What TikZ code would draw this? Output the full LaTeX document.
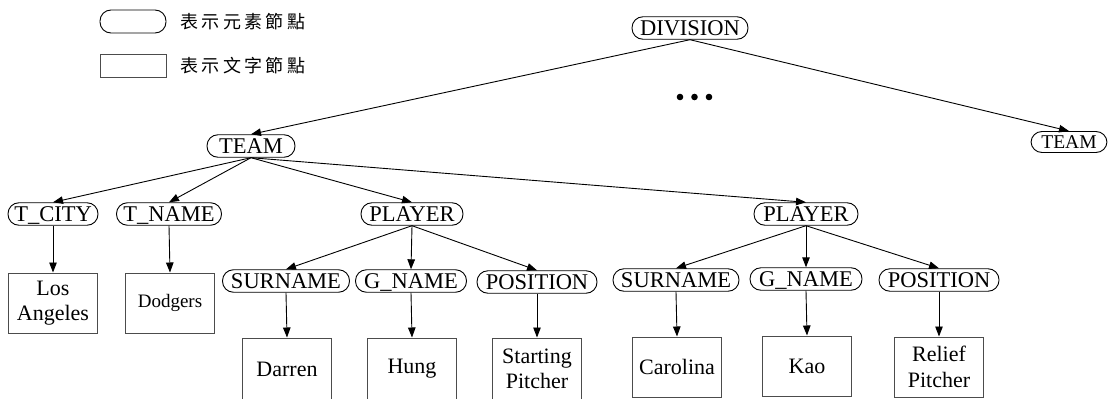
\documentclass[tikz,border=0pt]{standalone}
\usepackage{fontspec}
\setmainfont{Liberation Serif}
\newfontfamily\cjk[LetterSpace=19]{Noto Sans CJK TC}
\usetikzlibrary{arrows.meta}

\begin{document}
\begin{tikzpicture}[x=1pt,y=-1pt,
  elem/.style={draw, line width=0.9pt, rounded corners=11pt, minimum height=22.5pt,
    minimum width=#1, inner xsep=0pt, inner ysep=0pt, text height=15pt, text depth=0pt,
    font=\fontsize{22.5}{25}\selectfont},
  txt/.style={draw=black!70, line width=1pt, minimum width=89pt, minimum height=#1,
    align=center, inner sep=0pt, font=\fontsize{22}{25.5}\selectfont},
  txt/.default=60pt,
  legendtext/.style={anchor=west, inner sep=0pt, font=\cjk\fontsize{18}{20}\selectfont},
  link/.style={line width=0.9pt, -{Triangle[length=10pt,width=7.5pt]}}]
\useasboundingbox (0,0) rectangle (1114,399);

% legend
\node[draw, line width=0.9pt, rounded corners=11pt, minimum width=66pt, minimum height=23pt, inner sep=0pt] (lgelem) at (133,21.5) {};
\node[draw=black!70, line width=1pt, minimum width=66pt, minimum height=23pt, inner sep=0pt] (lgtxt) at (133,65.5) {};
\node[legendtext] (lgelemt) at (180,21.5) {表示元素節點};
\node[legendtext] (lgtxtt) at (180,65.5) {表示文字節點};

% element nodes
\node[elem=116pt] (div) at (690,28) {DIVISION};
\node[elem=88pt] (team) at (251,146) {TEAM};
\node[elem=76pt, minimum height=21pt, text height=13pt, font=\fontsize{19.5}{22}\selectfont] (teamb) at (1069,142) {TEAM};
\node[elem=90pt] (tcity) at (53,214) {T\_CITY};
\node[elem=105pt] (tname) at (169,214) {T\_NAME};
\node[elem=102pt] (pla) at (412,214) {PLAYER};
\node[elem=104pt] (plb) at (806,214) {PLAYER};
\node[elem=127pt] (sna) at (286,281) {SURNAME};
\node[elem=111pt] (gna) at (411,281) {G\_NAME};
\node[elem=120pt] (posa) at (537,282) {POSITION};
\node[elem=126pt] (snb) at (676,280) {SURNAME};
\node[elem=112pt] (gnb) at (806,279) {G\_NAME};
\node[elem=120pt] (posb) at (939,280) {POSITION};

% text nodes
\node[txt] (la) at (53,303) {Los\\Angeles};
\node[txt, font=\fontsize{19}{22}\selectfont] (dod) at (170,303) {Dodgers};
\node[txt=62pt] (darren) at (287,369) {Darren};
\node[txt=62pt] (hung) at (412,369) {Hung};
\node[txt=62pt] (sp) at (537,369) {Starting\\Pitcher};
\node[txt] (carol) at (677,367) {Carolina};
\node[txt] (kao) at (807,366) {Kao};
\node[txt] (rp) at (939,367) {Relief\\Pitcher};

% ellipsis
\fill (680,97) circle (3.3) (694.5,97) circle (3.3) (709,97) circle (3.3);

% connectors
\draw[link] (div.south) -- (team.north);
\draw[link] (div.south) -- (teamb.north);
\draw[link] (team.south) -- (tcity.north);
\draw[link] (team.south) -- (tname.north);
\draw[link] (team.south) -- (pla.north);
\draw[link] (team.south) -- (plb.north);
\draw[link] (tcity.south) -- (la.north);
\draw[link] (tname.south) -- (dod.north);
\draw[link] (pla.south) -- (sna.north);
\draw[link] (pla.south) -- (gna.north);
\draw[link] (pla.south) -- (posa.north);
\draw[link] (plb.south) -- (snb.north);
\draw[link] (plb.south) -- (gnb.north);
\draw[link] (plb.south) -- (posb.north);
\draw[link] (sna.south) -- (darren.north);
\draw[link] (gna.south) -- (hung.north);
\draw[link] (posa.south) -- (sp.north);
\draw[link] (snb.south) -- (carol.north);
\draw[link] (gnb.south) -- (kao.north);
\draw[link] (posb.south) -- (rp.north);
\end{tikzpicture}
\end{document}
